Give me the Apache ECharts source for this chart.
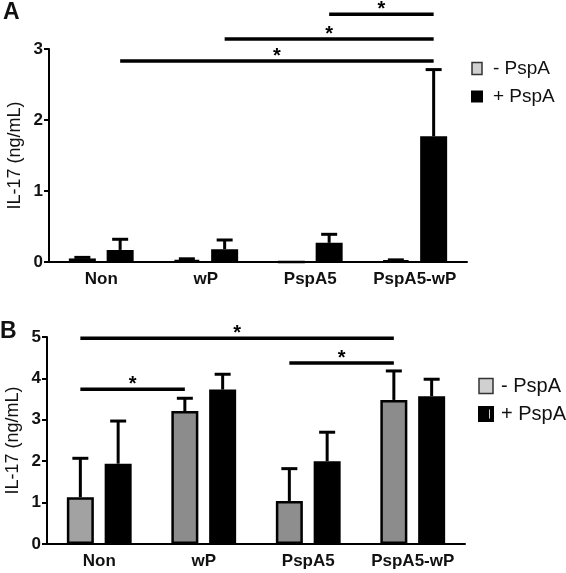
<!DOCTYPE html>
<html>
<head>
<meta charset="utf-8">
<script src="https://cdn.jsdelivr.net/npm/echarts@6/dist/echarts.min.js"></script>
<style>html,body{margin:0;padding:0;background:#fff;}#c{width:566px;height:573px;}</style>
</head>
<body>
<div id="c"></div>
<script>
var categories = ['Non', 'wP', 'PspA5', 'PspA5-wP'];
var seriesNames = ['- PspA', '+ PspA'];
// Panel A values (ng/mL) and upper end of error bars
var aMinus = [0.05, 0.03, 0, 0.02];
var aMinusErrTop = [0.065, 0.045, 0, 0.03];
var aPlus = [0.17, 0.18, 0.27, 1.77];
var aPlusErrTop = [0.32, 0.31, 0.39, 2.71];
// Panel B values
var bMinus = [1.13, 3.21, 1.04, 3.48];
var bMinusErrTop = [2.07, 3.52, 1.82, 4.18];
var bPlus = [1.94, 3.73, 2.0, 3.57];
var bPlusErrTop = [2.97, 4.10, 2.70, 3.98];
// significance brackets: [fromCategory, fromSide, toCategory, toSide, yValue]
var aSig = [[0, 1, 3, 1, 2.83], [1, 1, 3, 1, 3.14], [2, 1, 3, 1, 3.49]];
var bSig = [[0, 0, 3, 0, 4.97], [0, 0, 1, 0, 3.74], [2, 0, 3, 0, 4.37]];
var aTicks = [0, 1, 2, 3];
var bTicks = [0, 1, 2, 3, 4, 5];

var BW = 27, GAP = 0.4;
var OFF = BW * (1 + GAP) / 2;
var FONT = 'Liberation Sans, Arial, sans-serif';

function errData(vals, tops, side) {
  return vals.map(function (v, i) { return [i, v, tops[i], side]; });
}
function errRender(params, api) {
  var cat = api.value(0), v = api.value(1), top = api.value(2), side = api.value(3);
  if (top <= v) return null;
  var p1 = api.coord([cat, v]);
  var p2 = api.coord([cat, top]);
  var x = p1[0] + (side ? OFF : -OFF);
  var st = { stroke: '#000', lineWidth: 3 };
  return {
    type: 'group',
    children: [
      { type: 'line', shape: { x1: x, y1: p1[1], x2: x, y2: p2[1] }, style: st },
      { type: 'line', shape: { x1: x - 8, y1: p2[1], x2: x + 8, y2: p2[1] }, style: st }
    ]
  };
}
function sigRender(params, api) {
  var c1 = api.value(0), s1 = api.value(1), c2 = api.value(2), s2 = api.value(3), y = api.value(4);
  var p1 = api.coord([c1, y]);
  var p2 = api.coord([c2, y]);
  var x1 = p1[0] + (s1 ? OFF : -OFF);
  var x2 = p2[0] + (s2 ? OFF : -OFF);
  return {
    type: 'group',
    children: [
      { type: 'line', shape: { x1: x1, y1: p1[1], x2: x2, y2: p1[1] }, style: { stroke: '#000', lineWidth: 3.5 } },
      { type: 'text', x: (x1 + x2) / 2, y: p1[1] - 5, style: { text: '*', fill: '#000', font: 'bold 20px ' + FONT, align: 'center', verticalAlign: 'middle' } }
    ]
  };
}

var blackIcon = 'path://M0,0L10,0L10,10L0,10Z M6.5,1L6.5,9L8.5,9L8.5,1Z';

function yAxis(gi, max) {
  return {
    type: 'value', gridIndex: gi, min: 0, max: max, interval: 1,
    name: 'IL-17 (ng/mL)', nameLocation: 'middle', nameGap: 25, nameMoveOverlap: false,
    nameTextStyle: { fontFamily: FONT, fontSize: 18, color: '#111' },
    axisLine: { show: true, lineStyle: { color: '#000', width: 2 } },
    axisTick: { show: true, length: 5, lineStyle: { color: '#000', width: 2 } },
    axisLabel: { fontFamily: FONT, fontSize: 17, fontWeight: 'bold', color: '#111', margin: 6 },
    splitLine: { show: false }
  };
}
function xAxis(gi) {
  return {
    type: 'category', gridIndex: gi, data: categories,
    axisLine: { lineStyle: { color: '#000', width: 2 } },
    axisTick: { show: false },
    axisLabel: { fontFamily: FONT, fontSize: 17, fontWeight: 'bold', color: '#111', margin: 9, interval: 0 }
  };
}
function barSeries(name, gi, data, colors) {
  return {
    type: 'bar', name: name, xAxisIndex: gi, yAxisIndex: gi,
    barWidth: BW, barGap: (GAP * 100) + '%',
    data: data.map(function (v, i) { return { value: v, itemStyle: { color: colors[i] } }; }),
    itemStyle: { borderColor: '#000', borderWidth: 2.5 },
    z: 3
  };
}
function custom(gi, data, render, enc) {
  return {
    type: 'custom', xAxisIndex: gi, yAxisIndex: gi, data: data, renderItem: render,
    encode: enc, clip: false, silent: true, z: 2
  };
}

var greyA = ['#c8c8c8', '#c8c8c8', '#c8c8c8', '#c8c8c8'];
var greyB = ['#a2a2a2', '#8c8c8c', '#8e8e8e', '#8c8c8c'];
var blacks = ['#000', '#000', '#000', '#000'];

var option = {
  animation: false,
  backgroundColor: '#fff',
  title: [
    { text: 'A', left: 3, top: 1, padding: 0, textStyle: { fontFamily: FONT, fontSize: 23, fontWeight: 'bold', color: '#111' } },
    { text: 'B', left: 0, top: 320, padding: 0, textStyle: { fontFamily: FONT, fontSize: 23, fontWeight: 'bold', color: '#111' } }
  ],
  legend: [
    {
      orient: 'vertical', left: 466, top: 54, itemWidth: 10, itemHeight: 12, itemGap: 9,
      textStyle: { fontFamily: FONT, fontSize: 19, color: '#111', padding: [0, 0, 0, 6] },
      data: [
        { name: '- PspA', icon: 'rect', itemStyle: { color: '#d0d0d0', borderColor: '#333', borderWidth: 1.5 } },
        { name: '+ PspA', icon: blackIcon, itemStyle: { color: '#000' } }
      ]
    },
    {
      orient: 'vertical', left: 473, top: 371, itemWidth: 14, itemHeight: 15, itemGap: 8,
      textStyle: { fontFamily: FONT, fontSize: 20, color: '#111', padding: [0, 0, 0, 3] },
      data: [
        { name: '- PspA', icon: 'rect', itemStyle: { color: '#d0d0d0', borderColor: '#333', borderWidth: 1.5 } },
        { name: '+ PspA', icon: blackIcon, itemStyle: { color: '#000' } }
      ]
    }
  ],
  grid: [
    { left: 49, top: 49, width: 418, height: 213, outerBoundsMode: 'none', containLabel: false },
    { left: 47, top: 337, width: 418, height: 207, outerBoundsMode: 'none', containLabel: false }
  ],
  xAxis: [xAxis(0), xAxis(1)],
  yAxis: [yAxis(0, aTicks[aTicks.length - 1]), yAxis(1, bTicks[bTicks.length - 1])],
  series: [
    barSeries(seriesNames[0], 0, aMinus, greyA),
    barSeries(seriesNames[1], 0, aPlus, blacks),
    custom(0, errData(aMinus, aMinusErrTop, 0), errRender, { x: 0, y: [1, 2] }),
    custom(0, errData(aPlus, aPlusErrTop, 1), errRender, { x: 0, y: [1, 2] }),
    custom(0, aSig, sigRender, { x: [0, 2], y: 4 }),
    barSeries(seriesNames[0], 1, bMinus, greyB),
    barSeries(seriesNames[1], 1, bPlus, blacks),
    custom(1, errData(bMinus, bMinusErrTop, 0), errRender, { x: 0, y: [1, 2] }),
    custom(1, errData(bPlus, bPlusErrTop, 1), errRender, { x: 0, y: [1, 2] }),
    custom(1, bSig, sigRender, { x: [0, 2], y: 4 })
  ]
};
var chart = echarts.init(document.getElementById('c'), null, { renderer: 'canvas' });
chart.setOption(option);
</script>
</body>
</html>
